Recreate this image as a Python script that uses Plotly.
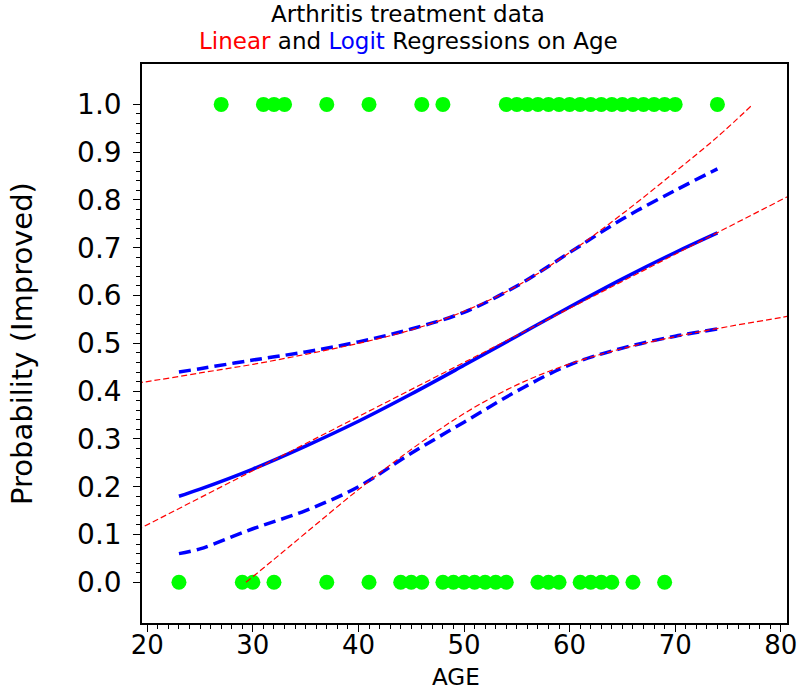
import plotly.graph_objects as go

# Patient ages by outcome (1 = improved, 0 = not improved)
age_improved = [27, 31, 32, 33, 37, 41, 46, 48, 54, 55, 56, 57, 58, 59, 60, 61,
                62, 63, 64, 65, 66, 67, 68, 69, 70, 74]
age_not_improved = [23, 29, 30, 32, 37, 41, 44, 45, 46, 48, 49, 50, 51, 52, 53, 54,
                    57, 58, 59, 61, 62, 63, 64, 66, 69]

# Logit regression: fitted probability and 95% confidence band
logit_age = [23, 25, 30, 35, 40, 45, 50, 55, 60, 65, 70, 74]
logit_fit = [0.180, 0.195, 0.237, 0.285, 0.337, 0.394, 0.454, 0.515, 0.576, 0.635, 0.690, 0.731]
logit_upper = [0.440, 0.447, 0.465, 0.482, 0.503, 0.530, 0.565, 0.620, 0.690, 0.760, 0.820, 0.865]
logit_lower = [0.060, 0.070, 0.112, 0.150, 0.200, 0.270, 0.335, 0.400, 0.455, 0.490, 0.515, 0.530]

# Linear regression: fitted line and confidence limits for the mean
lin_fit_age = [19, 81]
lin_fit = [0.109, 0.811]
lin_upper_age = [19, 20, 25, 30, 35, 40, 45, 50, 55, 60, 65, 70, 74, 77.35]
lin_upper = [0.417, 0.420, 0.438, 0.456, 0.477, 0.500, 0.528, 0.567, 0.620, 0.690, 0.771, 0.859, 0.932, 1.000]
lin_lower_age = [29.35, 32, 35, 40, 45, 50, 55, 60, 65, 70, 75, 80, 81]
lin_lower = [0.000, 0.048, 0.103, 0.194, 0.278, 0.353, 0.413, 0.457, 0.489, 0.514, 0.535, 0.554, 0.558]

x_ticks = [20, 30, 40, 50, 60, 70, 80]
y_ticks = [0.0, 0.1, 0.2, 0.3, 0.4, 0.5, 0.6, 0.7, 0.8, 0.9, 1.0]
y_tick_labels = ["0.0", "0.1", "0.2", "0.3", "0.4", "0.5", "0.6", "0.7", "0.8", "0.9", "1.0"]

x_minor = [a for a in range(21, 80) if a % 10]
y_minor = [round(i * 0.02, 2) for i in range(51) if i % 5]

FONT = "DejaVu Sans"
GREEN, RED, BLUE = "#00FF00", "#FF0000", "#0000FF"

fig = go.Figure()

fig.add_trace(go.Scatter(x=age_improved, y=[1.0] * len(age_improved), mode="markers",
                         marker=dict(color=GREEN, size=15, line=dict(width=0))))
fig.add_trace(go.Scatter(x=age_not_improved, y=[0.0] * len(age_not_improved), mode="markers",
                         marker=dict(color=GREEN, size=15, line=dict(width=0))))

blue_dash = dict(color=BLUE, width=3.5, dash="12px,6px")
fig.add_trace(go.Scatter(x=logit_age, y=logit_upper, mode="lines", line_shape="spline", line=blue_dash))
fig.add_trace(go.Scatter(x=logit_age, y=logit_lower, mode="lines", line_shape="spline", line=blue_dash))
fig.add_trace(go.Scatter(x=logit_age, y=logit_fit, mode="lines", line_shape="spline",
                         line=dict(color=BLUE, width=3.5)))

red_dash = dict(color=RED, width=1.2, dash="6px,3px")
fig.add_trace(go.Scatter(x=lin_fit_age, y=lin_fit, mode="lines", line=red_dash))
fig.add_trace(go.Scatter(x=lin_upper_age, y=lin_upper, mode="lines", line_shape="spline", line=red_dash))
fig.add_trace(go.Scatter(x=lin_lower_age, y=lin_lower, mode="lines", line_shape="spline", line=red_dash))

axis_common = dict(showgrid=False, zeroline=False, showline=True, mirror=True,
                   linecolor="black", linewidth=1.5, ticks="outside", ticklen=7,
                   tickwidth=1, tickcolor="black", automargin=False)

fig.update_xaxes(range=[19.5, 80.59], tickmode="array", tickvals=x_ticks,
                 ticktext=[str(v) for v in x_ticks], ticklabelstandoff=-9,
                 tickfont=dict(family=FONT, size=26, color="black"),
                 minor=dict(tickmode="array", tickvals=x_minor, ticks="outside",
                            ticklen=4, tickcolor="black", tickwidth=1),
                 **axis_common)
fig.update_yaxes(range=[-0.0852, 1.0845], tickmode="array", tickvals=y_ticks,
                 ticktext=y_tick_labels, ticklabelstandoff=6,
                 tickfont=dict(family=FONT, size=28, color="black"),
                 minor=dict(tickmode="array", tickvals=y_minor, ticks="outside",
                            ticklen=4, tickcolor="black", tickwidth=1),
                 title=dict(text="Probability (Improved)",
                            font=dict(family=FONT, size=29, color="black"), standoff=36),
                 **axis_common)

# x-axis title sits at the very bottom edge, under the tick labels
fig.add_annotation(text="AGE", xref="paper", yref="paper",
                   x=(456 - 142) / 645, y=-68 / 559, xanchor="center", yanchor="bottom",
                   borderpad=0, showarrow=False,
                   font=dict(family=FONT, size=23, color="black"))

title_x = (408 - 142) / 645
title_font = dict(family=FONT, size=23, color="black")
fig.add_annotation(text="Arthritis treatment data", xref="paper", yref="paper",
                   x=title_x, y=1.0 + 50 / 559, xanchor="center", yanchor="middle",
                   showarrow=False, font=title_font)
fig.add_annotation(text=f"<span style='color:{RED}'>Linear</span> and "
                        f"<span style='color:{BLUE}'>Logit</span> Regressions on Age",
                   xref="paper", yref="paper",
                   x=title_x, y=1.0 + 23 / 559, xanchor="center", yanchor="middle",
                   showarrow=False, font=title_font)

fig.update_layout(width=803, height=691, showlegend=False,
                  margin=dict(l=142, r=16, t=64, b=68),
                  paper_bgcolor="white", plot_bgcolor="white")

fig.write_html("out.html")
